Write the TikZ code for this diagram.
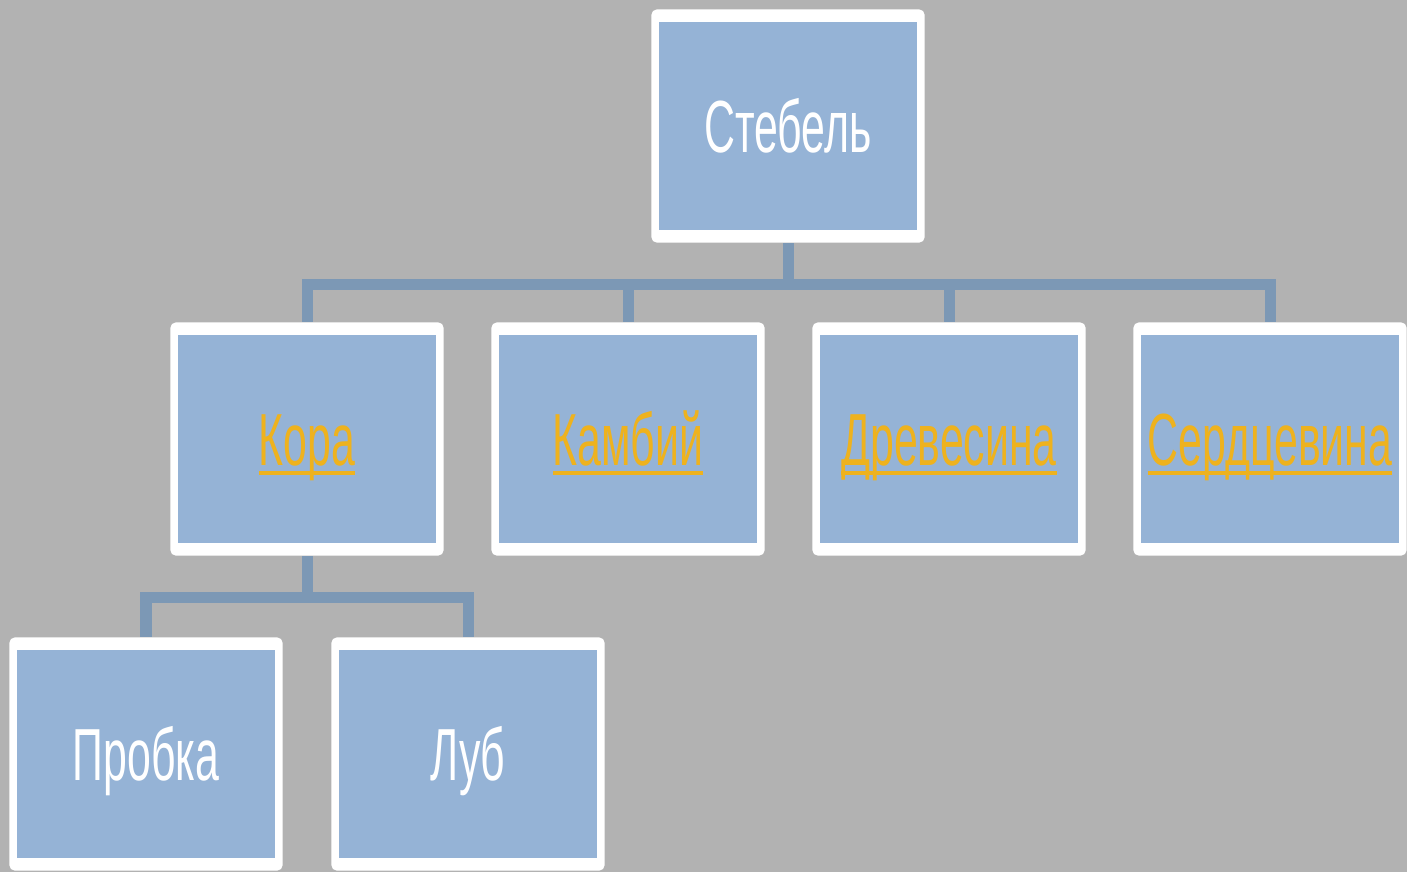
\documentclass[tikz,border=0pt]{standalone}
\usepackage{fontspec}
\setmainfont{Liberation Sans}
\newfontfamily\narrowsf[FakeStretch=0.58]{Liberation Sans}
\usetikzlibrary{calc}
\definecolor{bgGray}{RGB}{178,178,178}
\definecolor{boxBlue}{RGB}{149,179,214}
\definecolor{connBlue}{RGB}{124,152,181}
\definecolor{linkGold}{RGB}{238,178,30}
\newcommand{\lnk}[1]{\textcolor{linkGold}{\setbox0\hbox{#1}%
    \rlap{\vrule width\wd0 height -1.5pt depth 2.7pt}\box0}}

\begin{document}
\begin{tikzpicture}[
    x=0.01cm,y=-0.01cm,
    every node/.style={font=\narrowsf\fontsize{21}{25}\selectfont},
    box/.style={
        rectangle,
        rounded corners=1.5pt,
        fill=white,
        minimum width=2.73cm,
        minimum height=2.33cm,
        inner sep=0pt,
        text height=15pt,
        text depth=0pt,
        text=white,
        path picture={
            \fill[boxBlue,sharp corners]
                ($(path picture bounding box.south west)+(0.08cm,0.13cm)$)
                rectangle
                ($(path picture bounding box.north east)+(-0.08cm,-0.13cm)$);
        }
    },
    conn/.style={draw=connBlue,line width=0.11cm}
]

% background
\fill[bgGray] (0,0) rectangle (1407,872);
\useasboundingbox (0,0) rectangle (1407,872);

% ============================================================
% boxes
% ============================================================

\node[box] (stem) at (788,126) {Стебель};

\node[box] (kora)   at (307,439)  {\lnk{Кора}};
\node[box] (kambiy) at (628,439)  {\lnk{Камбий}};
\node[box] (drev)   at (949,439)  {\lnk{Древесина}};
\node[box] (serd)   at (1270,439) {\lnk{Сердцевина}};

\node[box] (probka) at (146,754) {Пробка};
\node[box] (lub)    at (468,754) {Луб};

% ============================================================
% connectors
% ============================================================

\coordinate (busTop) at ($(stem.south)+(0,41)$);
\coordinate (busKora) at ($(kora.south)+(0,41)$);

\foreach \child in {kora,kambiy,drev,serd}
    \draw[conn] (stem.south) -- (busTop) -| (\child.north);

\foreach \child in {probka,lub}
    \draw[conn] (kora.south) -- (busKora) -| (\child.north);

\end{tikzpicture}
\end{document}
